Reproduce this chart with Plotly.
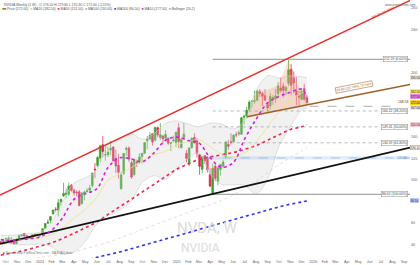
import plotly.graph_objects as go
import pandas as pd

# ---------------- data ----------------
week_start = "2023-09-18"
opens = [42.7,41.6,44.0,45.3,44.9,42.0,40.9,45.7,48.2,50.3,48.2,45.6,47.7,49.5,49.2,
 49.2,49.5,55.0,59.8,62.4,68.3,72.7,71.9,79.7,85.2,86.5,86.7,95.0,90.3,88.7,89.1,78.1,87.6,89.4,90.5,94.8,110.2,113.6,120.4,132.9,123.2,123.5,128.2,130.6,120.3,113.7,92.1,106.3,128.4,129.6,116.0,104.9,116.8,116.6,121.8,124.9,136.5,138.1,143.0,137.2,148.7,139.5,141.0,138.8,138.9,134.2,136.3,134.8,
 148.6,129.9,139.2,124.8,114.8,130.0,139.5,136.6,123.5,109.9,122.7,119.9,105.1,87.5,112.9,98.8,109.7,112.9,121.9,133.0,135.5,135.5,142.2,142.9,142.5,158.4,159.6,165.4,172.8,173.3,174.1,182.2,180.6,178.4,170.0,168.9,175.7,175.3,180.4,185.5,187.2,183.1,189.9,203.0,195.0,183.0,178.2,174.8,185.0,176.5]
highs = [43.0,43.9,45.7,47.6,46.9,43.6,45.7,48.4,49.4,50.5,48.8,47.7,49.7,50.1,49.9,
 49.3,55.0,59.5,63.5,66.1,72.1,74.7,82.3,82.3,97.4,91.9,97.4,96.3,92.2,90.6,90.6,88.8,90.0,92.4,95.4,106.5,115.8,122.4,132.0,140.8,131.4,130.7,136.2,131.4,128.1,124.4,107.7,125.0,131.3,131.3,118.2,119.8,119.0,124.9,125.0,135.0,140.9,144.4,143.1,149.8,149.6,152.9,141.6,146.5,139.6,134.4,141.1,144.9,
 153.1,138.9,153.1,128.0,130.4,139.3,143.4,139.0,123.7,122.0,122.9,122.2,111.0,115.1,114.9,111.9,114.8,118.7,136.0,137.4,143.5,142.4,145.0,146.2,158.7,160.9,167.9,174.3,174.0,183.3,183.9,184.5,181.9,184.5,172.4,181.0,178.9,184.6,191.1,195.3,190.1,187.0,212.2,208.0,201.0,196.0,183.0,185.7,189.5,179.6]
lows = [40.9,41.1,43.0,44.2,41.3,40.1,40.1,44.8,47.4,47.5,46.0,45.1,46.5,47.6,48.4,
 47.2,49.4,54.7,59.1,59.9,68.2,70.4,66.2,76.2,84.3,83.1,85.2,89.2,85.3,84.8,75.6,77.1,81.2,88.0,88.1,93.0,101.7,112.0,117.0,121.1,118.0,121.4,123.5,116.7,106.3,101.4,90.7,104.7,122.5,116.7,100.9,104.0,112.0,115.0,115.1,124.7,128.7,137.5,132.1,135.6,139.8,137.2,132.8,137.0,132.4,126.9,135.2,130.5,
 129.5,129.6,137.1,116.3,113.0,129.5,134.0,120.8,104.8,106.0,115.0,107.0,94.2,86.6,98.9,95.0,104.1,110.8,120.3,128.0,132.9,134.8,139.8,141.0,142.0,151.5,157.2,163.5,167.2,170.9,173.4,177.4,168.8,173.8,164.1,165.5,170.0,171.7,177.8,181.5,176.8,178.9,187.5,178.9,180.6,169.5,169.6,174.4,174.0,170.3]
closes = [41.6,43.5,45.7,45.5,41.3,40.5,45.0,48.3,49.2,47.8,46.5,47.5,48.9,48.8,49.5,
 49.0,54.7,59.5,61.0,66.1,72.1,72.6,78.8,82.2,87.5,87.9,94.3,90.4,88.0,88.1,76.2,87.8,88.8,89.9,92.5,106.5,109.6,120.9,131.9,126.6,123.5,125.8,129.2,117.9,113.1,107.3,104.8,124.6,129.4,119.4,102.8,119.1,116.0,121.4,124.9,134.8,138.0,141.5,135.4,148.9,142.0,142.0,138.3,142.4,134.3,134.7,137.0,144.5,
 135.9,137.7,142.6,120.1,129.8,138.9,134.4,124.9,112.7,121.7,117.7,109.7,94.3,110.9,101.5,111.4,114.5,116.7,135.4,131.3,135.1,141.7,142.0,143.9,157.8,159.3,164.9,172.4,173.5,173.7,182.7,180.5,178.0,174.2,167.0,177.8,176.7,178.2,187.6,183.2,183.2,186.3,202.5,188.2,190.2,178.9,177.0,182.4,175.0,172.0]

# indicator readings (monthly)
ind_dates = ["2023-09-18","2023-10-01","2023-11-01","2023-12-01",
 "2024-01-01","2024-02-01","2024-03-01","2024-04-01","2024-05-01","2024-06-01","2024-07-01","2024-08-01","2024-09-01","2024-10-01","2024-11-01","2024-12-01",
 "2025-01-01","2025-02-01","2025-03-01","2025-04-01","2025-05-01","2025-06-01","2025-07-01","2025-08-01","2025-09-01","2025-10-01","2025-11-01","2025-12-01","2025-12-15"]
ma10 = [44.5,44.0,44.3,45.3,47.2,53.2,64.6,82.0,87.1,91.8,111.6,120.6,119.5,117.0,125.3,136.7,139.9,136.8,134.6,120.4,111.9,116.1,137.8,156.4,171.7,177.6,181.7,184.5,177.5]
ma20 = [43.0,44.5,44.3,45.0,46.0,49.3,55.5,64.7,72.6,84.0,99.9,105.4,111.4,118.0,123.6,126.5,132.8,135.6,137.4,131.0,123.9,121.6,124.9,135.4,149.5,163.0,174.0,181.0,182.5]
bb_upper = [48.6,48.5,49.0,50.4,51.6,60.7,79.5,97.0,102.0,109.0,133.0,138.0,143.0,138.0,143.0,152.5,155.0,152.0,149.6,153.0,152.0,147.6,155.0,183.0,197.0,195.0,197.0,196.0,195.5]
bb_lower = [37.4,40.5,39.7,39.6,40.4,37.9,31.5,33.0,43.0,59.0,67.0,72.0,80.0,98.0,104.0,100.5,111.0,120.0,125.2,105.0,96.0,95.6,95.0,87.0,101.0,131.0,150.0,165.0,167.0]
ma50 = [30.0,31.0,33.0,35.5,38.5,41.5,45.5,50.5,55.5,61.0,68.0,75.0,82.0,89.0,96.0,103.0,110.0,115.0,119.0,121.5,123.5,125.5,128.5,132.0,137.0,142.0,147.0,149.5,151.5]
ma100 = [22.0,23.0,24.0,26.0,28.0,29.5,31.0,33.0,36.0,39.0,42.0,46.0,50.0,54.0,58.0,62.0,66.0,70.0,74.0,77.0,81.0,86.0,92.0,99.0,107.0,114.0,121.0,127.0,130.0]
ma200 = [14.5,15.5,16.5,17.8,19.0,20.5,22.0,23.5,25.5,28.0,30.5,33.0,36.0,39.0,42.0,45.0,48.0,51.0,54.0,57.0,60.0,63.0,66.0,69.0,72.0,75.0,77.5,79.5,80.5]

# drawn trend lines
chan_dates = ["2023-09-16", "2026-09-17"]
red_channel = [86.0, 267.0]
black_support = [40.5, 130.1]
brown_dates = ["2025-07-08", "2026-09-17"]
brown_line = [158.9, 188.9]
brown_label = "26.63 (16.70%) 73 bars"
red_label = "266.00 (25.36%)"

# pattern zone
zone_dates = ["2025-07-08","2025-08-04","2025-09-01","2025-09-29","2025-10-27","2025-11-17","2025-12-25","2025-07-08"]
zone_prices = [158.9,183.0,184.0,188.0,212.0,190.0,170.6,158.9]

# fibonacci retracement
fib_dates = ["2025-04-07", "2026-09-17"]
fib_levels = [212.19, 164.22, 149.41, 134.59, 86.62]
fib_pcts = ["0.00%", "38.20%", "50.00%", "61.80%", "100.00%"]
fib_dash = ["solid", "dot", "dot", "dot", "solid"]

# other levels
mark_dates = ["2025-12-22", "2026-08-10"]
mark_level = 168.58
zone_blue_dates = ["2025-03-17", "2026-09-17"]
zone_blue = [119.0, 122.0]
zone_blue_mid = 120.5

# right scale tags
tag_vals = [195.5, 182.5, 177.5, 172.0, 167.0, 151.5, 130.1, 80.5]
tag_bg = ["#e4e4e4", "#f5ea55", "#e27be6", "#f2d00c", "#e4e4e4", "#f9c6d3", "#ffffff", "#b9c2fb"]

month_labels = ["Oct","Nov","Dec",
 "2024","Feb","Mar","Apr","May","Jun","Jul","Aug","Sep","Oct","Nov","Dec",
 "2025","Feb","Mar","Apr","May","Jun","Jul","Aug","Sep","Oct","Nov","Dec",
 "2026","Feb","Mar","Apr","May","Jun","Jul","Aug","Sep"]
price_ticks = [40, 60, 100, 120, 140, 200, 240, 260]

# ---------------- figure ----------------
weeks = pd.date_range(week_start, periods=len(closes), freq="7D")
idates = pd.to_datetime(ind_dates)
GREEN, RED = "#3a9e2c", "#dc1f4c"
FONT = "Liberation Sans"

fig = go.Figure()

# Bollinger band
fig.add_trace(go.Scatter(x=idates, y=bb_upper, mode="lines", line=dict(color="#cfcfcf", width=0.6, shape="spline"),
                         hoverinfo="skip", showlegend=False))
fig.add_trace(go.Scatter(x=idates, y=bb_lower, mode="lines", line=dict(color="#cfcfcf", width=0.6, shape="spline"),
                         fill="tonexty", fillcolor="rgba(210,210,210,0.3)", hoverinfo="skip", showlegend=False))

# blue zone
fig.add_trace(go.Scatter(x=[zone_blue_dates[0], zone_blue_dates[1], zone_blue_dates[1], zone_blue_dates[0], zone_blue_dates[0]],
                         y=[zone_blue[0], zone_blue[0], zone_blue[1], zone_blue[1], zone_blue[0]],
                         mode="lines", fill="toself", fillcolor="rgba(120,170,240,0.22)", line=dict(width=0),
                         hoverinfo="skip", showlegend=False))
fig.add_trace(go.Scatter(x=zone_blue_dates, y=[zone_blue_mid]*2, mode="lines",
                         line=dict(color="#7ea8e8", width=0.6, dash="dash"), showlegend=False))

# pattern zone
fig.add_trace(go.Scatter(x=zone_dates, y=zone_prices, mode="lines", fill="toself",
                         fillcolor="rgba(246,150,100,0.28)", line=dict(width=0), showlegend=False))

# fib levels
for lv, ds in zip(fib_levels, fib_dash):
    fig.add_trace(go.Scatter(x=fib_dates, y=[lv, lv], mode="lines",
                             line=dict(color="#a8a8a8" if ds == "solid" else "#9a9a9a",
                                       width=1.3 if ds == "solid" else 0.7, dash=ds),
                             showlegend=False))
fig.add_trace(go.Scatter(x=mark_dates, y=[mark_level]*2, mode="lines",
                         line=dict(color="#888888", width=0.7, dash="dash"), showlegend=False))

# moving averages
fig.add_trace(go.Scatter(x=idates, y=ma200, mode="lines", line=dict(color="#2b35f0", width=1.6, dash="dot", shape="spline"), showlegend=False))
fig.add_trace(go.Scatter(x=idates, y=ma100, mode="lines", line=dict(color="#d0d0d0", width=0.7, dash="dot", shape="spline"), showlegend=False))
fig.add_trace(go.Scatter(x=idates, y=ma50, mode="lines", line=dict(color="#f0264a", width=1.6, dash="dot", shape="spline"), showlegend=False))
fig.add_trace(go.Scatter(x=idates, y=ma20, mode="lines", line=dict(color="#ece08a", width=0.8, shape="spline"), showlegend=False))

# trend lines
fig.add_trace(go.Scatter(x=chan_dates, y=red_channel, mode="lines", line=dict(color="#e8302c", width=1.5), showlegend=False))
fig.add_trace(go.Scatter(x=chan_dates, y=black_support, mode="lines", line=dict(color="#111111", width=1.8), showlegend=False))

# candles
fig.add_trace(go.Candlestick(x=weeks, open=opens, high=highs, low=lows, close=closes,
                             increasing=dict(line=dict(color=GREEN, width=0.7), fillcolor=GREEN),
                             decreasing=dict(line=dict(color=RED, width=0.7), fillcolor=RED),
                             whiskerwidth=0, showlegend=False))

fig.add_trace(go.Scatter(x=idates, y=ma10, mode="lines", line=dict(color="#d21ee0", width=1.6, dash="dot", shape="spline"), showlegend=False))
fig.add_trace(go.Scatter(x=brown_dates, y=brown_line, mode="lines", line=dict(color="#9c5f2a", width=1.5), showlegend=False))

ann = []
# fib labels
for lv, pc in zip(fib_levels, fib_pcts):
    ann.append(dict(x=fib_dates[1], y=lv, xref="x", yref="y", xanchor="right", yanchor="middle",
                    text=f"{lv:.2f} ({pc})", showarrow=False, xshift=-2,
                    font=dict(size=3.4, color="#444", family=FONT), bgcolor="white",
                    bordercolor="#8a8a8a", borderwidth=0.5, borderpad=0.6))
ann.append(dict(x=mark_dates[1], y=mark_level, xref="x", yref="y", xanchor="left", yanchor="bottom",
                text=f"{mark_level:.2f}", showarrow=False, font=dict(size=3.4, color="#444", family=FONT)))
ann.append(dict(x=zone_blue_dates[1], y=zone_blue_mid, xref="x", yref="y", xanchor="right", yanchor="middle",
                text=f"{zone_blue_mid:.2f}", showarrow=False, xshift=-1, font=dict(size=3.2, color="#5577aa", family=FONT)))
# brown label
ann.append(dict(x="2026-04-20", y=183.0, xref="x", yref="y", text=brown_label, showarrow=False, textangle=-11,
                yshift=4, font=dict(size=3.4, color="#9c5f2a", family=FONT), bgcolor="rgba(255,255,255,0.9)",
                bordercolor="#9c5f2a", borderwidth=0.5, borderpad=0.5))
# red label
ann.append(dict(x="2026-07-05", y=252.0, xref="x", yref="y", text=red_label, showarrow=False, textangle=-25,
                yshift=4, font=dict(size=3.4, color="#e8302c", family=FONT)))
# right tags
for v, bg in zip(tag_vals, tag_bg):
    ann.append(dict(x=1, y=v, xref="paper", yref="y", xanchor="left", yanchor="middle", text=f"{v:.2f}",
                    showarrow=False, font=dict(size=3.0, color="#222", family=FONT), bgcolor=bg,
                    bordercolor="#777" if bg == "#ffffff" else bg, borderwidth=0.4, borderpad=0.3))
# watermark
ann.append(dict(x=0.505, y=0.075, xref="paper", yref="paper", text="NVDA, W", showarrow=False,
                font=dict(size=15, color="#dcdcdc", family="Roboto")))
ann.append(dict(x=0.49, y=0.005, xref="paper", yref="paper", text="NVIDIA", showarrow=False,
                font=dict(size=12, color="#dcdcdc", family="Roboto")))
# header legend
ann.append(dict(x=0.005, y=0.998, xref="paper", yref="paper", xanchor="left", yanchor="top", showarrow=False,
                text="NVIDIA Weekly (1 W) - O 176.50 H 179.60 L 170.30 C 172.00 (-2.51%)",
                font=dict(size=3.4, color="#555", family=FONT)))
leg = ("<span style='color:#3a9e2c'>■</span><span style='color:#dc1f4c'>■</span> Price (172.00)  "
       "<span style='color:#e8d84a'>■</span> MA20 (182.50)  "
       "<span style='color:#f0264a'>■</span> MA50 (151.50)  "
       "<span style='color:#aaaaaa'>■</span> MA100 (130.00)  "
       "<span style='color:#2b35f0'>■</span> MA200 (80.50)  "
       "<span style='color:#d21ee0'>■</span> MA10 (177.50)  "
       "<span style='color:#aaaaaa'>■</span> Bollinger (20,2)")
ann.append(dict(x=0.0, y=0.982, xref="paper", yref="paper", xanchor="left", yanchor="top", showarrow=False,
                text=leg, font=dict(size=3.4, color="#555", family=FONT)))
ann.append(dict(x=1.0, y=0.998, xref="paper", yref="paper", xanchor="right", yanchor="top", showarrow=False,
                xshift=8, text="www.prorealtime.com", font=dict(size=3.2, color="#666", family=FONT)))
ann.append(dict(x=0.003, y=0.003, xref="paper", yref="paper", xanchor="left", yanchor="bottom", showarrow=False,
                text="<span style='color:#dc1f4c'>■</span> Powered by ProRealTime.com - NASDAQ data",
                font=dict(size=3.2, color="#777", family=FONT)))

fig.update_layout(
    width=420, height=265, margin=dict(l=0, r=10, t=0, b=7),
    paper_bgcolor="white", plot_bgcolor="white", boxgap=0.1,
    showlegend=False, annotations=ann,
    xaxis=dict(range=["2023-09-16", "2026-09-17"], rangeslider=dict(visible=False), showgrid=False,
               zeroline=False, showline=False,
               tickvals=pd.date_range("2023-10-01", periods=len(month_labels), freq="MS"),
               ticktext=month_labels, tickfont=dict(size=3.6, color="#666", family=FONT), ticklen=0),
    yaxis=dict(range=[27.44, 267.44], side="right", showgrid=False, zeroline=False, showline=False,
               tickvals=price_ticks, ticktext=[str(t) for t in price_ticks],
               tickfont=dict(size=3.8, color="#666", family=FONT), ticklen=0),
)

fig.write_html("out.html")
